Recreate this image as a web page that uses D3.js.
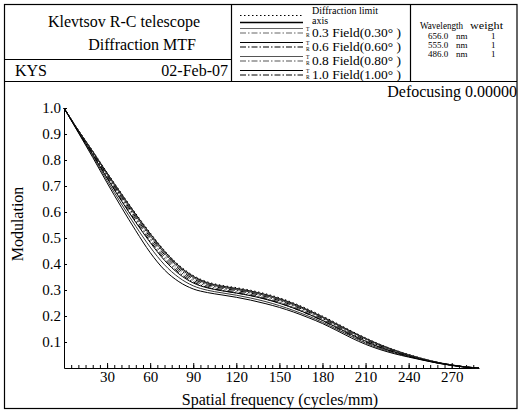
<!DOCTYPE html>
<html>
<head>
<meta charset="utf-8">
<style>
    body { margin: 0; background: #fff; }
    svg { display: block; font-family: 'Liberation Serif', 'DejaVu Serif', serif; }
    .axis .domain { stroke: #000; stroke-width: 1px; }
    .axis .tick line { stroke: #000; }
    .axis text { font-size: 15px; font-family: 'Liberation Serif', serif; fill: #000; }
    .frame { fill: none; stroke: #000; stroke-width: 1.2px; }
    .mtf { fill: none; stroke-width: 1px; }
</style>
</head>
<body>
<svg id="chart" width="520" height="412"></svg>
<script src="https://cdn.jsdelivr.net/npm/d3@7"></script>
<script>
    // spatial frequency samples (cycles/mm)
    const freq = [0, 10, 20, 30, 40, 50, 60, 70, 80, 90, 100, 110, 120, 130, 140, 150, 160, 170, 180, 190, 200, 210, 220, 230, 240, 250, 260, 270, 280, 289];

    const diffLimit = [1.0, .915, .835, .752, .672, .594, .520, .452, .396, .356, .331, .318, .309, .299, .286, .270, .250, .226, .200, .172, .143, .116, .091, .070, .052, .036, .022, .012, .004, 0];
    const axisMtf   = [1.0, .914, .833, .750, .669, .591, .517, .449, .393, .353, .328, .315, .306, .296, .283, .267, .247, .223, .197, .169, .141, .114, .090, .069, .051, .035, .022, .012, .004, 0];
    const f03T = [1.0, .913, .831, .746, .664, .585, .510, .442, .387, .348, .324, .311, .302, .292, .279, .263, .243, .220, .194, .166, .138, .112, .088, .068, .050, .035, .021, .011, .004, 0];
    const f03R = [1.0, .914, .832, .748, .667, .588, .514, .446, .390, .351, .326, .313, .304, .294, .281, .265, .245, .221, .195, .167, .139, .113, .089, .068, .051, .035, .022, .012, .004, 0];
    const f06T = [1.0, .909, .821, .730, .643, .560, .483, .414, .362, .327, .308, .297, .288, .278, .265, .249, .230, .208, .183, .156, .129, .103, .080, .062, .046, .032, .020, .011, .003, 0];
    const f06R = [1.0, .912, .828, .742, .659, .579, .504, .436, .381, .343, .320, .307, .298, .288, .275, .259, .239, .216, .190, .162, .134, .108, .085, .065, .048, .033, .021, .011, .004, 0];
    const f08T = [1.0, .907, .816, .721, .631, .545, .465, .397, .348, .316, .299, .289, .280, .269, .256, .240, .221, .200, .176, .149, .122, .096, .075, .058, .044, .031, .019, .010, .003, 0];
    const f08R = [1.0, .911, .825, .737, .653, .572, .496, .428, .374, .337, .315, .302, .293, .283, .270, .254, .234, .211, .186, .158, .130, .104, .082, .063, .047, .033, .020, .011, .003, 0];
    const f10T = [1.0, .905, .810, .712, .618, .528, .444, .377, .332, .304, .290, .281, .272, .261, .248, .233, .215, .194, .171, .144, .116, .091, .071, .055, .042, .030, .019, .010, .003, 0];
    const f10R = [1.0, .909, .822, .732, .646, .564, .488, .420, .367, .331, .310, .298, .289, .279, .266, .250, .230, .207, .182, .154, .126, .100, .079, .061, .045, .032, .020, .011, .003, 0];

    const fieldLabels = ["0.3 Field(0.30° )", "0.6 Field(0.60° )", "0.8 Field(0.80° )", "1.0 Field(1.00° )"];
    const wavelengths = ["656.0", "555.0", "486.0"];
    const weights = ["1", "1", "1"];
    const yTicks = [0.1, 0.2, 0.3, 0.4, 0.5, 0.6, 0.7, 0.8, 0.9, 1.0];
    const xTicks = [30, 60, 90, 120, 150, 180, 210, 240, 270];

    const series = [
        {name: "diff", vals: diffLimit, color: "#000", dash: "1.5,2.5"},
        {name: "axis", vals: axisMtf, color: "#000", dash: null},
        {name: "03T", vals: f03T, color: "#666", dash: null},
        {name: "03R", vals: f03R, color: "#666", dash: "6,2,1.5,2"},
        {name: "06T", vals: f06T, color: "#000", dash: null},
        {name: "06R", vals: f06R, color: "#000", dash: "6,2,1.5,2"},
        {name: "08T", vals: f08T, color: "#555", dash: null},
        {name: "08R", vals: f08R, color: "#555", dash: "6,2,1.5,2"},
        {name: "10T", vals: f10T, color: "#000", dash: null},
        {name: "10R", vals: f10R, color: "#000", dash: "6,2,1.5,2"}
    ];

    const svg = d3.select("#chart");

    // outer frame and header boxes
    svg.append("rect").attr("class", "frame").attr("x", 4.5).attr("y", 4.5).attr("width", 512.5).attr("height", 404);
    svg.append("line").attr("class", "frame").attr("x1", 4.5).attr("x2", 517).attr("y1", 81.5).attr("y2", 81.5);
    svg.append("line").attr("class", "frame").attr("x1", 231.5).attr("x2", 231.5).attr("y1", 4.5).attr("y2", 81.5);
    svg.append("line").attr("class", "frame").attr("x1", 410.5).attr("x2", 410.5).attr("y1", 4.5).attr("y2", 81.5);
    svg.append("line").attr("class", "frame").attr("x1", 4.5).attr("x2", 231.5).attr("y1", 59.5).attr("y2", 59.5);

    svg.append("text").attr("x", 124).attr("y", 27).attr("text-anchor", "middle")
        .attr("font-size", "16px").text("Klevtsov R-C telescope");
    svg.append("text").attr("x", 196).attr("y", 50).attr("text-anchor", "end")
        .attr("font-size", "16px").text("Diffraction MTF");
    svg.append("text").attr("x", 15).attr("y", 75.5).attr("font-size", "16px").text("KYS");
    svg.append("text").attr("x", 228).attr("y", 75.5).attr("text-anchor", "end")
        .attr("font-size", "16px").text("02-Feb-07");

    // legend
    const lx0 = 240, lx1 = 303;
    const legendY = {diff: 15.5, axis: 22.5};
    const rowY = [32, 46, 60, 74];
    const legendLine = (y, s) => svg.append("line")
        .attr("x1", lx0).attr("x2", lx1).attr("y1", y).attr("y2", y)
        .attr("stroke", s.color).attr("stroke-width", s.name == "axis" ? 1.5 : 1.2)
        .attr("stroke-dasharray", s.dash);
    legendLine(legendY.diff, series[0]);
    legendLine(legendY.axis, series[1]);
    svg.append("text").attr("x", 312).attr("y", 14).attr("font-size", "10px")
        .attr("textLength", 66).attr("lengthAdjust", "spacingAndGlyphs").text("Diffraction limit");
    svg.append("text").attr("x", 312).attr("y", 23.5).attr("font-size", "10px").text("axis");
    fieldLabels.forEach((lab, i) => {
        legendLine(rowY[i] - 3.5, series[2 + i * 2]);
        legendLine(rowY[i] + 1, series[3 + i * 2]);
        svg.append("text").attr("x", 306).attr("y", rowY[i] - 1.5).attr("font-size", "5.5px").text("T");
        svg.append("text").attr("x", 306).attr("y", rowY[i] + 5).attr("font-size", "5.5px").text("R");
        svg.append("text").attr("x", 312).attr("y", rowY[i] + 5).attr("font-size", "13.5px")
            .attr("textLength", 89).attr("lengthAdjust", "spacingAndGlyphs").text(lab);
    });

    svg.append("text").attr("x", 420).attr("y", 29).attr("font-size", "9.5px")
        .attr("textLength", 43).attr("lengthAdjust", "spacingAndGlyphs").text("Wavelength");
    svg.append("text").attr("x", 470).attr("y", 29).attr("font-size", "9.5px")
        .attr("textLength", 33).attr("lengthAdjust", "spacingAndGlyphs").text("weight");
    wavelengths.forEach((w, i) => {
        const y = 39 + i * 9;
        svg.append("text").attr("x", 428).attr("y", y).attr("font-size", "9px").text(w);
        svg.append("text").attr("x", 456).attr("y", y).attr("font-size", "9px").text("nm");
        svg.append("text").attr("x", 491).attr("y", y).attr("font-size", "9px").text(weights[i]);
    });

    // plot
    const x = d3.scaleLinear().domain([0, 289]).range([64, 479]);
    const y = d3.scaleLinear().domain([0, 1]).range([368, 108]);

    svg.append("text").attr("x", 517).attr("y", 97).attr("text-anchor", "end")
        .attr("font-size", "16px").text("Defocusing 0.00000");

    svg.append("g").attr("class", "axis")
        .attr("transform", "translate(64,0)")
        .call(d3.axisLeft(y).tickValues(yTicks).tickFormat(d3.format(".1f"))
            .tickSize(-3).tickSizeOuter(0).tickPadding(3));

    svg.append("g").attr("class", "axis")
        .attr("transform", "translate(0,368)")
        .call(d3.axisBottom(x).tickValues(d3.range(5, 290, 5)).tickFormat("")
            .tickSize(-3).tickSizeOuter(0));

    const xa = svg.append("g").attr("class", "axis")
        .attr("transform", "translate(0,368)")
        .call(d3.axisBottom(x).tickValues(xTicks).tickSize(-5).tickSizeOuter(0).tickPadding(3));
    xa.select(".domain").remove();

    const line = d3.line()
        .x((d, i) => x(freq[i]))
        .y(d => y(d))
        .curve(d3.curveMonotoneX);

    svg.append("g").selectAll("path")
        .data(series)
        .join("path")
        .attr("class", "mtf")
        .attr("stroke", d => d.color == "#000" ? "#000" : "#333")
        .attr("stroke-dasharray", d => d.dash)
        .attr("d", d => line(d.vals));

    svg.append("text").attr("x", 280).attr("y", 405).attr("text-anchor", "middle")
        .attr("font-size", "16px").text("Spatial frequency (cycles/mm)");
    svg.append("text").attr("transform", "translate(23,224) rotate(-90)")
        .attr("text-anchor", "middle").attr("font-size", "16px").text("Modulation");
</script>
</body>
</html>
